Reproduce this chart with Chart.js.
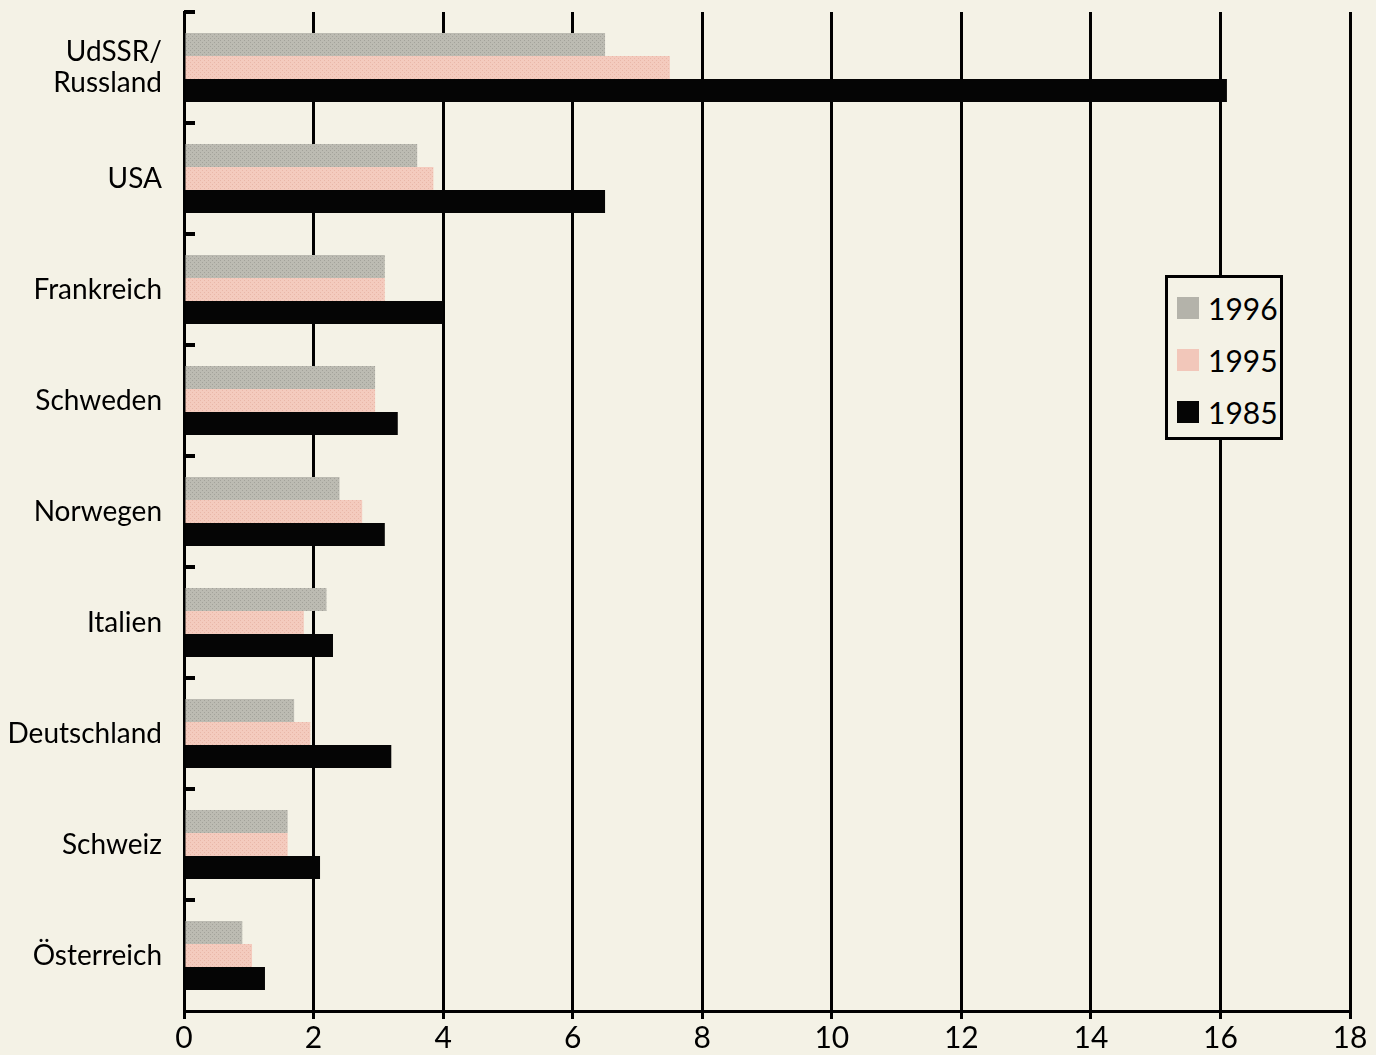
<!DOCTYPE html>
<html><head><meta charset="utf-8">
<script src="https://cdn.jsdelivr.net/npm/chart.js@4.4.1/dist/chart.umd.min.js"></script>
<style>
html,body{margin:0;padding:0;background:#f4f2e6;}
#wrap{position:relative;width:1376px;height:1055px;background:#f4f2e6;}
#legend{position:absolute;left:1165px;top:275px;width:112px;border:3px solid #000;background:#f4f2e6;font-family:Lato,"Open Sans",sans-serif;color:#000;box-sizing:content-box;padding-top:4px;height:155px;}
.row{height:52px;display:flex;align-items:center;}
.sw{width:22px;height:22px;margin-left:9px;margin-right:9px;}
.lt{font-size:30px;line-height:1;}
</style>
</head><body>
<div id="wrap"><canvas id="c" width="1376" height="1055"></canvas><div id="legend"></div></div>
<script>
const categories = [["UdSSR/","Russland"],"USA","Frankreich","Schweden","Norwegen","Italien","Deutschland","Schweiz","Österreich"];
const seriesNames = ["1996","1995","1985"];
const values1996 = [6.5, 3.6, 3.1, 2.95, 2.4, 2.2, 1.7, 1.6, 0.9];
const values1995 = [7.5, 3.85, 3.1, 2.95, 2.75, 1.85, 1.95, 1.6, 1.05];
const values1985 = [16.1, 6.5, 4.0, 3.3, 3.1, 2.3, 3.2, 2.1, 1.25];
const xTicks = [0,2,4,6,8,10,12,14,16,18];

function makePattern(base, dot){
  const p = document.createElement('canvas'); p.width = 4; p.height = 4;
  const g = p.getContext('2d');
  g.fillStyle = base; g.fillRect(0,0,4,4);
  g.fillStyle = dot; g.fillRect(0,0,1,1); g.fillRect(2,2,1,1);
  return document.getElementById('c').getContext('2d').createPattern(p,'repeat');
}
const swatchColors = ["#b4b3aa","#f2c7ba","#050505"];
const fills = [makePattern("#bcbbb2","#a3a29a"), makePattern("#f4cbbe","#e9b7a8"), "#050505"];

const leg = document.getElementById('legend');
seriesNames.forEach((n,i)=>{
  const r = document.createElement('div'); r.className='row';
  r.innerHTML = '<div class="sw" style="background:'+swatchColors[i]+'"></div><span class="lt">'+n+'</span>';
  leg.appendChild(r);
});

const innerTicks = {
  id:'innerTicks',
  afterDraw(chart){
    const y = chart.scales.y, ctx = chart.ctx, left = chart.chartArea.left;
    ctx.save(); ctx.strokeStyle='#000'; ctx.lineWidth=4;
    for(let i=0;i<categories.length;i++){
      const py = y.getPixelForValue(i-0.5);
      ctx.beginPath(); ctx.moveTo(left, py); ctx.lineTo(left+11, py); ctx.stroke();
    }
    ctx.restore();
  }
};

new Chart(document.getElementById('c'), {
  type:'bar',
  data:{
    labels: categories,
    datasets:[
      {label:seriesNames[0], data:values1996, backgroundColor:fills[0]},
      {label:seriesNames[1], data:values1995, backgroundColor:fills[1]},
      {label:seriesNames[2], data:values1985, backgroundColor:fills[2]}
    ]
  },
  options:{
    indexAxis:'y',
    responsive:false,
    animation:false,
    categoryPercentage:0.62,
    barPercentage:1.0,
    layout:{padding:{top:12,right:26,left:0,bottom:0}},
    plugins:{legend:{display:false}, tooltip:{enabled:false}},
    scales:{
      x:{
        min:0,max:18,
        afterBuildTicks(s){ s.ticks = xTicks.map(v=>({value:v})); },
        afterFit(s){ s.height = 44; s.paddingLeft = 0; s.paddingRight = 0; },
        grid:{color:'#000', lineWidth:3, tickLength:8, tickColor:'#000', tickWidth:3},
        border:{color:'#000', width:3},
        ticks:{color:'#000', font:{family:'Lato', size:30}, padding:1, maxRotation:0}
      },
      y:{
        afterFit(s){ s.width = 184; s.paddingTop = 0; s.paddingBottom = 0; },
        grid:{display:false},
        border:{color:'#000', width:3},
        ticks:{color:'#000', font:{family:'Lato', size:28, lineHeight:1.08}, padding:14}
      }
    }
  },
  plugins:[innerTicks]
});
</script>
</body></html>
